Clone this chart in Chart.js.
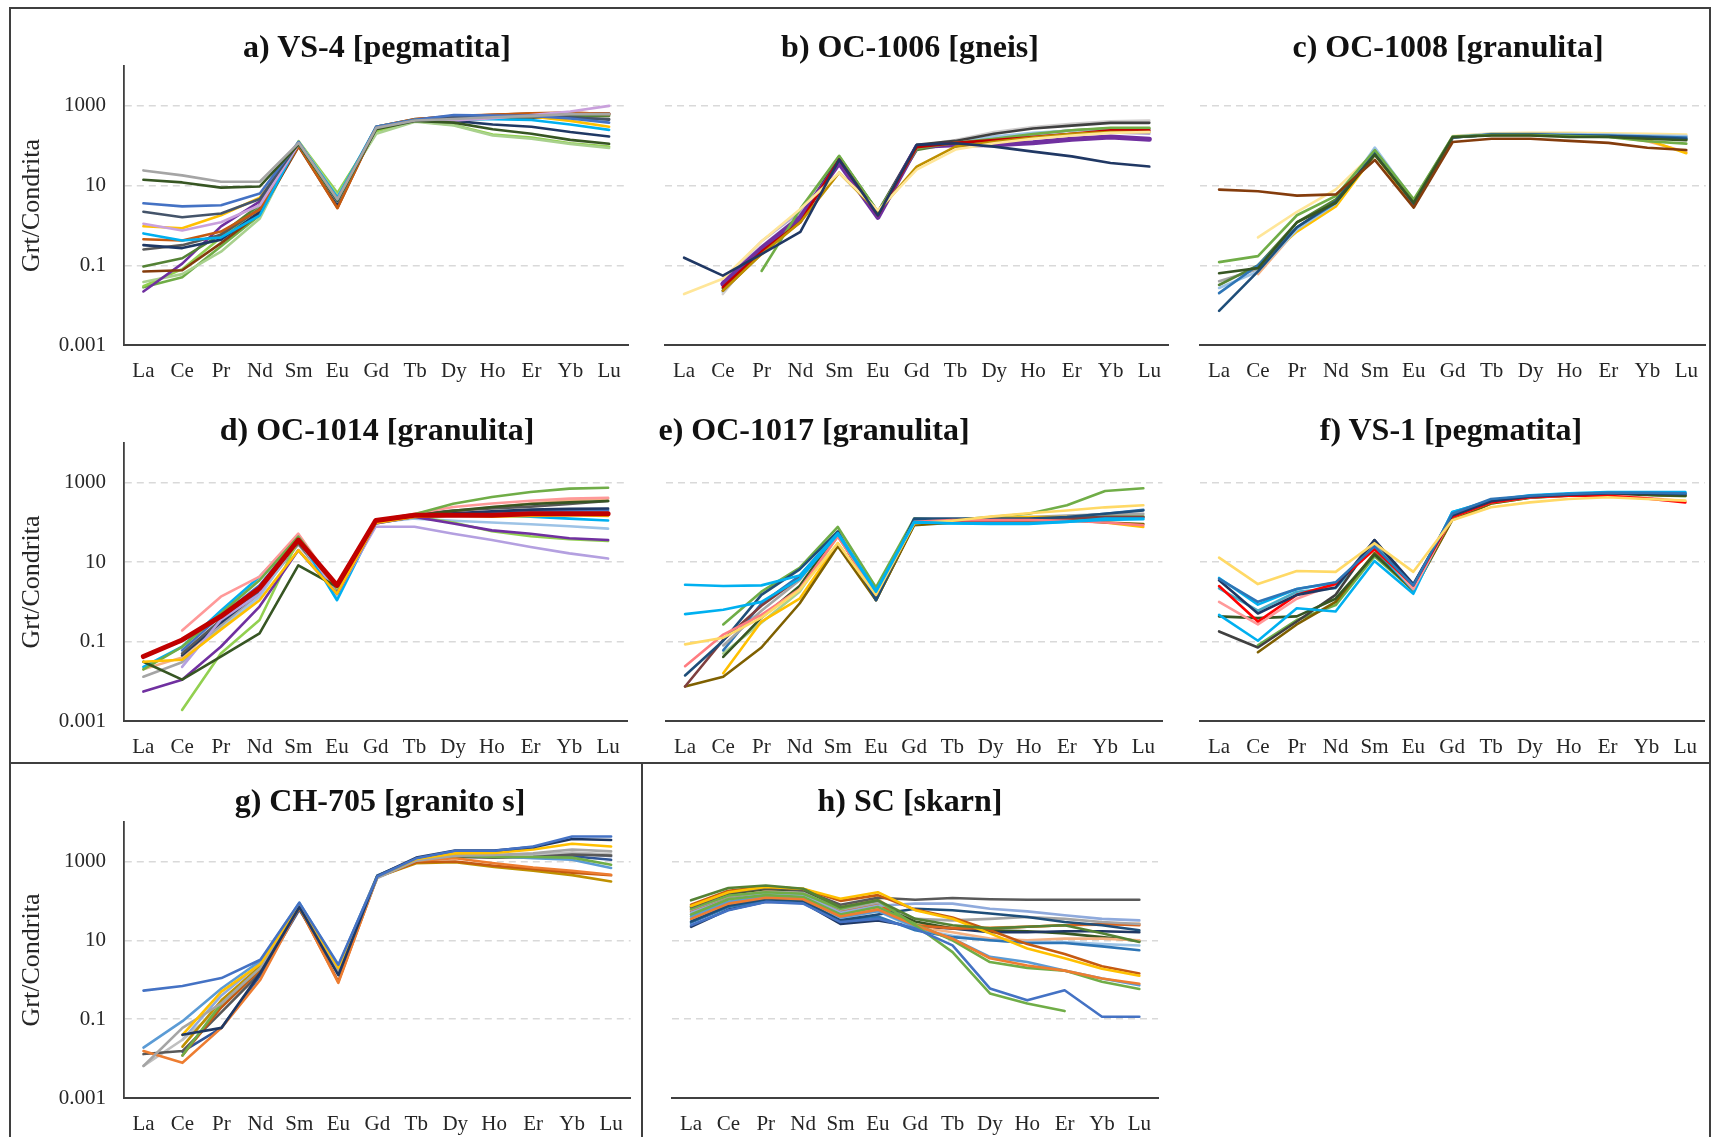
<!DOCTYPE html>
<html>
  <head>
    <meta charset="utf-8" />
    <title>Grt/Condrita</title>
    <script src="https://cdn.jsdelivr.net/npm/chart.js"></script>
    <style>
      body {
        margin: 0;
        width: 1713px;
        height: 1137px;
        position: relative;
        overflow: hidden;
        background: #fff;
        font-family: "Liberation Serif", serif;
      }
      .rule {
        position: absolute;
        background: #3f3f3f;
      }
      .panel {
        position: absolute;
      }
      .title {
        position: absolute;
        transform: translate(-50%, -50%);
        font-weight: bold;
        font-size: 32px;
        line-height: 1;
        white-space: nowrap;
        color: #111;
      }
    </style>
  </head>
  <body>
    <!-- frame lines -->
    <div class="rule" style="left: 9px; top: 7px; width: 1702px; height: 2px"></div>
    <div class="rule" style="left: 9px; top: 7px; width: 2px; height: 1130px"></div>
    <div class="rule" style="left: 1709px; top: 7px; width: 2px; height: 1130px"></div>
    <div class="rule" style="left: 9px; top: 762px; width: 1702px; height: 2px"></div>
    <div class="rule" style="left: 641px; top: 762px; width: 2px; height: 375px"></div>

    <script>
      const ree = ["La", "Ce", "Pr", "Nd", "Sm", "Eu", "Gd", "Tb", "Dy", "Ho", "Er", "Yb", "Lu"];
      const tickValues = [0.001, 0.1, 10, 1000];
      const titles = [
        "a) VS-4 [pegmatita]",
        "b) OC-1006 [gneis]",
        "c) OC-1008 [granulita]",
        "d) OC-1014 [granulita]",
        "e) OC-1017 [granulita]",
        "f) VS-1 [pegmatita]",
        "g) CH-705 [granito s]",
        "h) SC [skarn]",
      ];

      // a) VS-4
      const seriesA = [
        [24, 18, 12.5, 12.5, 118, 4.5, 280, 430, 470, 520, 560, 620, 620],
        [14, 12, 8.9, 9.5, 108, 4.2, 260, 420, 380, 260, 200, 140, 112],
        [3.6, 3.0, 3.2, 6.3, 125, 4.0, 300, 450, 590, 570, 560, 480, 380],
        [2.2, 1.6, 2.0, 4.6, 118, 4.4, 290, 440, 520, 540, 560, 520, 450],
        [1.1, 0.75, 1.2, 3.2, 110, 4.5, 270, 430, 430, 490, 590, 720, 1000],
        [0.95, 0.85, 1.8, 5.0, 112, 4.0, 290, 440, 500, 520, 540, 420, 300],
        [0.63, 0.42, 0.5, 1.8, 120, 5.0, 300, 450, 470, 460, 440, 340, 250],
        [0.45, 0.42, 0.7, 2.5, 100, 2.7, 300, 460, 560, 600, 650, 680, 620],
        [0.32, 0.27, 0.44, 2.2, 105, 3.5, 280, 440, 420, 340, 300, 220, 170],
        [0.25, 0.32, 0.58, 2.6, 110, 4.2, 270, 430, 480, 500, 520, 500, 470],
        [0.093, 0.15, 0.6, 3.3, 115, 4.6, 290, 440, 440, 480, 500, 540, 560],
        [0.07, 0.075, 0.36, 2.0, 95, 2.8, 300, 470, 540, 600, 640, 660, 640],
        [0.022, 0.11, 0.95, 4.0, 118, 4.0, 280, 440, 480, 520, 560, 600, 620],
        [0.038, 0.06, 0.22, 1.5, 125, 5.5, 200, 400, 320, 180, 150, 110, 88],
        [0.03, 0.08, 0.5, 2.8, 130, 6.5, 230, 420, 330, 190, 160, 115, 95],
        [0.028, 0.05, 0.3, 1.8, 120, 6.0, 240, 420, 480, 560, 620, 640, 600],
      ];
      const colorsA = ["#a5a5a5", "#375623", "#4472c4", "#44546a", "#c9a0dc", "#ffc000", "#00b0f0", "#c55a11",
        "#1f3864", "#595959", "#548235", "#843c0c", "#7030a0", "#a9d18e", "#92d050", "#70ad47"];

      // b) OC-1006
      const seriesB = [
        [0.155, 0.055, 0.19, 0.69, 45, 1.8, 105, 115, 95, 71, 54, 37, 30],
        [0.019, 0.046, 0.4, 2.6, 21, 2.4, 25, 80, 115, 150, 180, 210, 220],
        [null, 0.023, 0.19, 1.2, 21, 2.2, 30, 95, 125, 160, 200, 220, 220],
        [null, 0.028, 0.22, 1.2, 45, 1.8, 92, 118, 138, 166, 200, 245, 245],
        [null, null, 0.072, 2.6, 56, 2.2, 85, 118, 150, 195, 245, 280, 280],
        [null, 0.034, 0.27, 1.6, 37, 1.6, 95, 105, 105, 118, 145, 166, 145],
        [null, 0.023, 0.2, 1.5, 52, 2.2, 105, 132, 200, 270, 320, 375, 375],
        [null, 0.019, 0.3, 1.8, 45, 2.0, 98, 138, 220, 295, 355, 410, 425],
        [null, 0.021, 0.27, 1.8, 48, 2.0, 100, 125, 170, 210, 240, 260, 245],
        [null, 0.041, 0.4, 2.2, 50, 1.9, 100, 120, 150, 180, 200, 215, 200],
        [null, 0.026, 0.25, 1.8, 54, 2.1, 78, 115, 166, 200, 245, 270, 270],
      ];
      const colorsB = ["#203864", "#ffe699", "#bf9000", "#c00000", "#70ad47", "#7030a0", "#404040", "#d0cece",
        "#9dc3e6", "#b4a7d6", "#548235"];

      // c) OC-1008
      const seriesC = [
        [7.9, 7.2, 5.6, 6.0, 44, 2.8, 124, 150, 150, 132, 118, 89, 78],
        [0.063, 0.085, 1.2, 3.7, 59, 3.7, 166, 181, 181, 166, 166, 150, 137],
        [0.12, 0.17, 1.8, 5.5, 78, 4.5, 170, 185, 185, 175, 165, 130, 113],
        [0.0072, 0.07, 0.9, 4.0, 65, 3.5, 160, 190, 190, 180, 175, 165, 150],
        [0.02, 0.1, 0.9, 3.7, 65, 3.5, 160, 190, 190, 185, 180, 170, 160],
        [0.027, 0.07, 0.8, 3.5, 90, 4.2, 170, 200, 200, 195, 190, 180, 175],
        [null, 0.1, 0.7, 3.0, 60, 3.2, 160, 195, 200, 195, 185, 140, 65],
        [null, 0.06, 0.8, 3.4, 62, 3.3, 160, 195, 200, 190, 175, 130, 70],
        [null, 0.5, 2.2, 8.0, 70, 3.8, 175, 205, 210, 210, 205, 200, 190],
        [0.032, 0.1, 1.2, 4.5, 65, 4.0, 165, 185, 185, 175, 170, 160, 145],
        [0.04, 0.08, 0.9, 4.0, 70, 3.8, 160, 190, 195, 190, 185, 175, 170],
      ];
      const colorsC = ["#843c0c", "#375623", "#70ad47", "#1f4e79", "#2e75b6", "#9dc3e6", "#ffc000", "#f4b183",
        "#ffe699", "#548235", "#a5a5a5"];

      // d) OC-1014
      const seriesD = [
        [0.042, 0.11, 0.43, 2.2, 36, 2.6, 112, 152, 152, 152, 166, 166, 166],
        [0.031, 0.035, 0.2, 1.1, 20, 1.6, 97, 138, 150, 140, 145, 152, 145],
        [0.031, 0.011, 0.042, 0.16, 8.3, 2.4, 112, 150, 195, 245, 290, 320, 345],
        [0.0055, 0.011, 0.074, 0.76, 20, 1.6, 94, 138, 94, 63, 52, 40, 36],
        [null, 0.0019, 0.05, 0.35, 36, 2.2, 94, 140, 100, 60, 45, 38, 34],
        [0.02, 0.074, 0.51, 3.5, 44, 2.4, 112, 160, 295, 435, 585, 710, 750],
        [null, 0.023, 0.35, 1.6, 44, 1.6, 78, 78, 52, 36, 24, 16.6, 12.3],
        [null, 0.19, 1.35, 4.3, 52, 2.2, 112, 166, 245, 300, 350, 400, 420],
        [0.023, 0.074, 0.6, 4.3, 44, 1.1, 97, 138, 150, 150, 140, 125, 112],
        [null, 0.035, 0.21, 1.35, 36, 1.3, 100, 125, 110, 100, 90, 80, 70],
        [null, 0.05, 0.35, 2.0, 30, 2.0, 112, 160, 200, 225, 250, 290, 345],
        [null, 0.045, 0.3, 1.8, 32, 2.2, 105, 150, 170, 190, 210, 220, 225],
        [null, 0.06, 0.45, 2.6, 40, 1.9, 112, 150, 160, 175, 190, 200, 205],
        [0.013, 0.03, 0.25, 1.6, 28, 1.8, 100, 140, 150, 160, 175, 180, 185],
        [0.02, 0.04, 0.3, 2.2, 50, 2.0, 110, 150, 190, 240, 300, 360, 400],
      ];
      const colorsD = ["#c00000", "#ffc000", "#375623", "#7030a0", "#92d050", "#70ad47", "#b4a0e0", "#ff9999",
        "#00b0f0", "#9dc3e6", "#595959", "#203864", "#4472c4", "#a5a5a5", "#f4b183"];

      // e) OC-1017
      const seriesE = [
        [2.7, 2.5, 2.6, 4.6, 54, 1.9, 103, 94, 91, 91, 103, 125, 125],
        [0.49, 0.63, 1.0, 3.8, 50, 1.8, 100, 95, 95, 95, 105, 115, 120],
        [0.085, 0.125, 0.4, 2.0, 30, 1.5, 95, 110, 140, 170, 200, 240, 270],
        [0.024, 0.15, 0.47, 2.1, 44, 1.6, 103, 114, 114, 114, 110, 100, 85],
        [0.014, 0.105, 1.5, 6.6, 59, 1.1, 125, 125, 125, 125, 137, 166, 200],
        [0.0074, 0.11, 0.8, 4.0, 50, 1.2, 115, 110, 110, 115, 125, 137, 137],
        [0.0074, 0.013, 0.071, 0.91, 25, 1.1, 85, 98, 110, 115, 114, 100, 91],
        [null, 0.016, 0.32, 1.2, 30, 1.3, 95, 114, 125, 137, 137, 100, 77],
        [null, 0.27, 1.8, 7.2, 77, 2.3, 125, 114, 137, 166, 270, 620, 725],
        [null, 0.041, 0.4, 2.5, 55, 1.1, 90, 98, 98, 105, 125, 137, 137],
        [null, 0.08, 0.6, 3.5, 60, 1.7, 110, 114, 125, 137, 150, 160, 166],
        [null, 0.06, 0.9, 4.5, 55, 1.5, 115, 114, 114, 120, 137, 166, 208],
        [null, 0.05, 0.3, 1.8, 45, 1.6, 100, 110, 120, 130, 140, 150, 150],
      ];
      const colorsE = ["#00b0f0", "#00b0f0", "#ffd966", "#ff7c80", "#1f4e79", "#7f3f3f", "#7f6000", "#ffc000",
        "#70ad47", "#375623", "#a5a5a5", "#2e75b6", "#a9d18e"];

      // f) VS-1
      const seriesF = [
        [13, 2.8, 6.0, 5.7, 30, 5.7, 114, 240, 320, 390, 430, 390, 355],
        [3.8, 1.0, 2.1, 3.1, 25, 2.6, 166, 390, 470, 520, 560, 560, 540],
        [3.5, 0.51, 1.5, 2.3, 36, 2.8, 150, 340, 450, 500, 540, 540, 520],
        [2.5, 0.32, 1.5, 2.8, 21, 2.6, 137, 320, 430, 470, 470, 400, 320],
        [1.0, 0.27, 1.2, 2.8, 25, 2.1, 137, 320, 430, 470, 480, 420, 340],
        [0.47, 0.105, 0.69, 0.57, 10.7, 1.6, 182, 340, 470, 520, 560, 560, 560],
        [4.0, 0.85, 2.1, 3.0, 22, 2.0, 180, 360, 480, 540, 580, 580, 580],
        [0.43, 0.39, 0.43, 1.2, 15.5, 2.1, 137, 320, 430, 480, 510, 500, 470],
        [0.18, 0.071, 0.32, 1.5, 36, 2.6, 150, 320, 430, 490, 520, 500, 480],
        [null, 0.054, 0.27, 1.0, 17, 1.9, 114, 300, 420, 480, 510, 500, 470],
        [null, 0.08, 0.35, 0.83, 14, 1.95, 120, 300, 420, 470, 500, 490, 460],
        [2.2, 0.6, 1.8, 2.2, 28, 2.2, 160, 350, 460, 520, 560, 550, 530],
      ];
      const colorsF = ["#ffd966", "#2e75b6", "#1f3864", "#ff0000", "#ff9999", "#00b0f0", "#00b0f0", "#375623",
        "#404040", "#7f6000", "#70ad47", "#4bacc6"];

      // g) CH-705
      const seriesG = [
        [0.53, 0.69, 1.1, 3.2, 89, 2.4, 415, 1200, 1860, 1860, 2400, 4300, 4300],
        [null, 0.04, 0.06, 1.5, 70, 1.3, 430, 1250, 1900, 1900, 2300, 3700, 3500],
        [null, 0.04, 0.5, 2.5, 80, 2.0, 420, 1150, 1600, 1650, 2000, 2800, 2400],
        [0.0065, 0.06, 0.25, 2.0, 75, 1.6, 380, 1050, 1400, 1450, 1600, 2000, 1800],
        [null, 0.012, 0.25, 2.0, 70, 1.5, 420, 1100, 1400, 1300, 1300, 1250, 820],
        [0.019, 0.089, 0.6, 3.0, 90, 2.2, 440, 1150, 1450, 1350, 1200, 1100, 680],
        [0.0155, 0.0078, 0.06, 1.0, 70, 0.83, 420, 1050, 1200, 900, 700, 580, 460],
        [null, 0.012, 0.2, 1.8, 65, 0.9, 400, 950, 1000, 780, 640, 520, 445],
        [null, 0.02, 0.3, 2.2, 75, 1.8, 400, 900, 950, 720, 580, 450, 310],
        [0.013, 0.0155, 0.15, 1.5, 70, 1.5, 400, 1000, 1300, 1250, 1300, 1500, 1400],
        [0.0065, 0.03, 0.2, 1.8, 72, 1.6, 390, 1000, 1350, 1300, 1400, 1700, 1500],
        [null, 0.015, 0.06, 1.3, 60, 1.5, 430, 1150, 1500, 1400, 1250, 1350, 1100],
        [null, 0.03, 0.4, 2.6, 85, 2.2, 430, 1150, 1500, 1450, 1500, 1600, 1350],
      ];
      const colorsG = ["#4472c4", "#1f3864", "#ffc000", "#a5a5a5", "#70ad47", "#5b9bd5", "#ed7d31", "#c55a11",
        "#bf9000", "#595959", "#bfbfbf", "#2f5597", "#8faadc"];

      // h) SC
      const seriesH = [
        [103, 211, 245, 203, 69, 103, 35, 24, 20, 22, 24, 15, 9.1],
        [74, 166, 224, 203, 113, 166, 58, 35, 15, 6.2, 3.5, 1.9, 1.26],
        [80, 180, 230, 200, 100, 140, 60, 38, 18, 8, 4.5, 2.2, 1.44],
        [70, 160, 210, 190, 80, 120, 107, 118, 110, 107, 107, 107, 107],
        [24, 58, 94, 85, 29, 35, 20, 7.4, 0.6, 0.3, 0.54, 0.115, 0.115],
        [63, 137, 166, 151, 63, 103, 24, 5.0, 0.45, 0.25, 0.16, null, null],
        [35, 85, 120, 110, 40, 60, 24, 11, 3.5, 2.3, 1.7, 1.07, 0.79],
        [45, 110, 140, 125, 45, 70, 26, 10, 2.8, 2.0, 1.7, 0.89, 0.58],
        [40, 95, 130, 120, 38, 55, 22, 11, 3.8, 2.8, 1.7, 1.07, 0.72],
        [30, 75, 110, 100, 32, 45, 63, 58, 48, 39, 29, 24, 18],
        [50, 110, 150, 140, 50, 75, 85, 85, 63, 54, 43, 35, 32],
        [60, 130, 170, 160, 60, 90, 35, 32, 35, 39, 35, 29, 26],
        [55, 120, 160, 150, 55, 85, 24, 20, 20, 22, 24, 26, 24],
        [28, 70, 100, 95, 30, 40, 18, 12, 10, 8.5, 8.5, 7, 5.6],
        [35, 85, 115, 105, 35, 55, 20, 13, 10, 9, 9, 8, 7.4],
        [45, 100, 135, 125, 42, 65, 22, 16, 11, 10, 11, 11, 10],
        [22, 60, 95, 90, 26, 32, 22, 20, 16, 16, 17, 17, 16],
        [70, 150, 200, 180, 60, 95, 30, 20, 18, 17, 15, 12, 9.6],
        [60, 140, 190, 180, 70, 110, 25, 21, 21, 22, 24, 25, 26],
      ];
      const colorsH = ["#548235", "#ffc000", "#c55a11", "#595959", "#4472c4", "#70ad47", "#ed7d31", "#70ad47",
        "#5b9bd5", "#1f4e79", "#8faadc", "#a5a5a5", "#d9641f", "#2e75b6", "#9dc3e6", "#f4b183", "#203864",
        "#385723", "#f4a460"];

      // plot-area placement of each panel on the page
      const layoutBoxes = [
        { x0: 124, x1: 629, top: 66, bottom: 345, yAxis: true, tx: 377, ty: 46 },
        { x0: 659, x1: 1169, top: 66, bottom: 345, yAxis: false, tx: 910, ty: 46 },
        { x0: 1194, x1: 1706, top: 66, bottom: 345, yAxis: false, tx: 1448, ty: 46 },
        { x0: 124, x1: 628, top: 443, bottom: 721, yAxis: true, tx: 377, ty: 429 },
        { x0: 660, x1: 1163, top: 443, bottom: 721, yAxis: false, tx: 814, ty: 429 },
        { x0: 1194, x1: 1705, top: 443, bottom: 721, yAxis: false, tx: 1451, ty: 429 },
        { x0: 124, x1: 631, top: 822, bottom: 1098, yAxis: true, tx: 380, ty: 800 },
        { x0: 666, x1: 1159, top: 822, bottom: 1098, yAxis: false, tx: 910, ty: 800 },
      ];
      const allSeries = [seriesA, seriesB, seriesC, seriesD, seriesE, seriesF, seriesG, seriesH];
      const allColors = [colorsA, colorsB, colorsC, colorsD, colorsE, colorsF, colorsG, colorsH];
      const thickLines = { 1: [5], 3: [0] }; // panel index -> series drawn heavier

      const textColor = "#262626";
      const padTop = 34;
      const padRight = 6;
      const xAxisHeight = 45;

      layoutBoxes.forEach((box, i) => {
        const yw = box.yAxis ? 110 : 0;
        const canvas = document.createElement("canvas");
        canvas.className = "panel";
        canvas.width = box.x1 - box.x0 + yw + padRight;
        canvas.height = box.bottom - box.top + padTop + xAxisHeight;
        canvas.style.left = box.x0 - yw + "px";
        canvas.style.top = box.top - padTop + "px";
        document.body.appendChild(canvas);

        const t = document.createElement("div");
        t.className = "title";
        t.textContent = titles[i];
        t.style.left = box.tx + "px";
        t.style.top = box.ty + "px";
        document.body.appendChild(t);

        const heavy = thickLines[i] || [];
        const datasets = allSeries[i].map((vals, k) => ({
          data: vals,
          borderColor: allColors[i][k],
          backgroundColor: allColors[i][k],
          borderWidth: heavy.includes(k) ? 5 : 2.6,
        }));

        new Chart(canvas, {
          type: "line",
          data: { labels: ree, datasets: datasets },
          options: {
            responsive: false,
            animation: false,
            events: [],
            devicePixelRatio: 1,
            layout: { padding: { top: padTop, right: padRight, left: 0, bottom: 0 } },
            elements: {
              point: { radius: 0 },
              line: { tension: 0, borderCapStyle: "round", borderJoinStyle: "round" },
            },
            plugins: { legend: { display: false }, tooltip: { enabled: false } },
            scales: {
              x: {
                type: "category",
                offset: true,
                grid: { display: false, drawTicks: false },
                border: { display: true, color: "#404040", width: 2 },
                ticks: {
                  color: textColor,
                  font: { family: "Liberation Serif", size: 21 },
                  padding: 14,
                  autoSkip: false,
                  maxRotation: 0,
                },
                afterFit: (s) => {
                  s.height = xAxisHeight;
                },
              },
              y: {
                type: "logarithmic",
                min: 0.001,
                max: 10000,
                afterBuildTicks: (s) => {
                  s.ticks = tickValues.concat([10000]).map((v) => ({ value: v }));
                },
                afterFit: (s) => {
                  s.width = yw;
                },
                grid: {
                  drawTicks: false,
                  lineWidth: 1.5,
                  color: (c) =>
                    c.tick && c.tick.value > 0.01 && c.tick.value < 5000 ? "#d9d9d9" : "rgba(0,0,0,0)",
                },
                border: { display: box.yAxis, color: "#404040", width: 1.8, dash: [7, 5] },
                ticks: {
                  display: box.yAxis,
                  color: textColor,
                  font: { family: "Liberation Serif", size: 21 },
                  padding: 18,
                  callback: (v) => (tickValues.includes(v) ? String(v) : ""),
                },
                title: {
                  display: box.yAxis,
                  text: "Grt/Condrita",
                  color: textColor,
                  font: { family: "Liberation Serif", size: 26 },
                  padding: { top: 3, bottom: 0 },
                },
              },
            },
          },
        });
      });
    </script>
  </body>
</html>
